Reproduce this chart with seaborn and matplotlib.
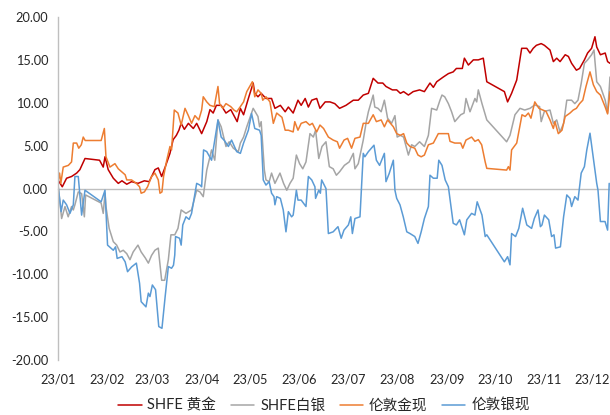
import numpy as np
import pandas as pd
import matplotlib
matplotlib.use("Agg")
import matplotlib.pyplot as plt
import matplotlib.dates as mdates
import seaborn as sns

# ========== DATA (day offsets from 2023-01-01, values in %) ==========
START = pd.Timestamp("2023-01-01")

gold_shfe_days = [0, 2.7, 5.4, 8.5, 11.7, 13.7, 16.9, 26, 28.3, 29.4, 31.4, 34.6, 37.7, 40, 43, 46, 50, 54, 57,
                  60.6, 62.7, 64.8, 67, 70, 72, 74, 75.6, 77, 79, 81.5, 84.6, 86.7, 89.8, 93, 95, 97, 99, 102,
                  105, 108, 112, 114, 116, 119, 122, 123, 125, 127, 130, 133.5, 135.6, 139, 142, 144, 147, 150,
                  152, 154.5, 156.5, 158.6, 161.7, 163.75, 167, 170, 173, 176, 180, 184.6, 187.7, 190.8, 194,
                  197, 200, 203, 205, 209, 211.7, 214, 216, 219, 222, 226, 229, 232.5, 234.6, 236.7, 240.8, 244,
                  247, 249, 252.7, 254, 256.5, 259.6, 262.7, 265.8, 268, 279, 281, 283.5, 286.7, 289.8, 293, 295,
                  297, 299, 302, 304, 307.5, 309.6, 311.7, 313.8, 317, 319, 321, 324, 326, 329, 331, 333.5,
                  335.6, 336.7, 339, 342, 343.5, 345]
gold_shfe = [1.0, 0.2, 1.2, 1.4, 1.8, 2.2, 3.5, 3.3, 2.5, 3.7, 2.2, 1.2, 0.6, 0.9, 0.5, 0.8, 0.6, 0.9, 0.8,
             2.2, 2.4, 1.4, 2.5, 4.1, 5.7, 6.2, 6.8, 7.6, 6.9, 7.6, 7.0, 7.6, 6.4, 7.8, 9.2, 8.8, 9.7, 9.7,
             8.8, 9.2, 7.8, 9.35, 8.6, 10.5, 12.3, 11.1, 10.7, 11.1, 10.5, 10.5, 9.35, 9.7, 8.95, 9.5, 8.8, 10.3,
             9.7, 10.5, 9.5, 10.3, 10.5, 9.35, 10.1, 10.1, 9.9, 9.35, 9.7, 10.3, 10.3, 10.9, 11.1,
             12.85, 12.3, 12.3, 11.9, 11.5, 11.5, 11.1, 11.3, 10.9, 11.3, 11.5, 11.3, 12.3, 11.8, 12.45, 13.0, 13.4,
             13.6, 14.0, 14.0, 15.2, 14.4, 15.0, 15.0, 15.2, 12.45, 11.3, 10.1, 11.1, 12.65, 16.35, 16.35, 15.8,
             16.35, 16.7, 16.9, 16.7, 16.15, 14.8, 15.2, 14.8, 15.6, 15.4, 14.6, 13.8, 14.0, 15.0, 15.8, 16.35,
             17.7, 16.5, 15.6, 15.8, 14.8, 14.6]

silver_shfe_days = [0, 2.3, 4.4, 6.4, 8.5, 9.6, 10.6, 12.7, 14.8, 16.5, 17.3, 27, 28.3, 29.4, 30, 32, 34.6, 36.7,
                    38.75, 40.8, 43, 45, 47, 50, 52, 54.6, 56.5, 58.5, 60.6, 62.7, 64.8, 66.7, 69, 70.6, 73, 75,
                    77, 80, 83.5, 86.7, 88.75, 90.8, 93, 96, 98, 100, 102, 105, 107, 109.6, 112.7, 114, 116, 118,
                    122, 125, 126, 127, 129, 130, 132, 133.5, 135.6, 138.75, 141, 143, 145, 147, 149, 151, 153,
                    155, 157.5, 159.6, 161, 163, 165, 167.5, 169.6, 172, 174, 176, 179, 182, 184.6, 185.6, 187.7,
                    190.8, 192.7, 194, 197, 198, 200, 202, 204, 206, 208.5, 210.6, 212, 214, 216, 219, 221, 223,
                    226, 229, 231.5, 233.5, 236.7, 238.75, 240, 241.7, 244, 246, 248, 251.7, 253.8, 255, 257.5,
                    260.6, 261.7, 262.7, 265, 268, 280.4, 282.5, 285.6, 288.75, 291.7, 295, 298, 301, 302, 304,
                    307.5, 309.6, 311.7, 313.75, 316, 318, 321, 323, 325, 327, 329, 331, 333.5, 335, 336.7, 339,
                    342, 343.5, 345]
silver_shfe = [0.6, -3.5, -2.1, -3.3, -2.1, -2.5, -1.9, -0.4, -0.6, -3.3, -0.75, -1.7, -2.9, -0.55, -2.1, -4.65,
               -6.2, -6.6, -7.4, -7.2, -7.6, -8.3, -7.4, -6.6, -7.4, -8.1, -8.7, -7.8, -7.2, -6.95, -10.7, -10.7,
               -8.3, -5.4, -5.4, -4.65, -2.5, -2.9, -2.5, -0.2, -0.4, -0.95, 2.15, 4.5, 3.3, 8.0, 7.2, 4.9, 5.45,
               4.7, 4.3, 5.3, 6.0, 7.2, 9.35, 8.4, 7.2, 7.8, 2.15, 1.0, 0.8, 1.8, 0.6, 1.8, 0.6, -0.2, 0.6, 1.2,
               3.9, 2.9, 2.3, 3.1, 6.4, 6.0, 6.8, 3.5, 4.9, 5.45, 2.55, 2.3, 1.55, 1.95, 2.7, 3.1, 4.1, 2.3, 2.9,
               5.65, 7.8, 8.95, 10.9, 9.5, 9.35, 8.95, 10.3, 8.2, 7.6, 8.5, 6.0, 6.2, 6.0, 3.9, 5.1, 4.9, 5.45,
               4.9, 6.2, 9.35, 9.15, 10.3, 10.9, 10.7, 9.9, 8.95, 7.8, 8.6, 8.8, 10.5, 8.95, 10.5, 10.1, 11.5,
               9.9, 8.0, 5.45, 6.2, 8.6, 9.35, 9.15, 9.35, 9.75, 9.55, 7.8, 9.0, 9.15, 7.6, 8.0, 6.6, 7.6, 10.3,
               10.3, 9.9, 10.3, 12.25, 14.6, 15.0, 15.6, 16.15, 12.45, 11.9, 10.3, 8.8, 13.0]

gold_ldn_days = [0, 1, 1.8, 3.3, 6.5, 8.5, 9.6, 11.7, 13, 14.6, 15.8, 17, 27, 29, 30, 32.5, 35.6, 37.7, 39.8, 42,
                 43, 46, 49, 51, 52, 54, 56, 58.5, 60.6, 62.7, 63.75, 65, 66, 68, 70, 71, 72.7, 75, 77, 79.4,
                 81.5, 83.5, 85.6, 88, 89.8, 90.8, 93, 95, 97.7, 100, 101, 103, 105, 108, 110, 111.7, 114, 116,
                 118, 121.5, 123, 125, 127, 128, 130, 132.5, 134.6, 136.7, 140, 142, 144, 147, 148, 150, 152, 155,
                 157.3, 159, 161.7, 163.75, 166, 169, 172, 174.6, 176, 178.8, 181, 183.5, 185.6, 188.75, 190.8,
                 194, 197, 199, 202, 204, 206, 209.6, 211.7, 214, 216, 218, 220, 223, 225, 227, 229, 231.5, 234.6,
                 237.7, 240.8, 244, 245, 248, 251.7, 253, 255, 258.5, 260.6, 262.7, 264.8, 267, 268, 280.4, 281.5,
                 282.5, 283.5, 286.7, 290, 292, 294, 295.6, 298, 300.6, 303, 305, 307.5, 309.6, 310.6, 312.7, 315,
                 317, 320, 322, 324, 326, 328, 330, 332.5, 334.6, 336.7, 339, 342, 343.5, 345]
gold_ldn = [0.8, 1.8, 0.6, 2.5, 2.7, 3.1, 5.3, 5.3, 4.7, 5.1, 6.0, 5.6, 5.6, 7.0, 3.7, 2.5, 2.9, 2.3, 1.95, 1.6,
            1.0, 1.0, 0.6, 0.2, -0.55, -0.4, 0.2, 1.4, 1.8, 1.0, -0.55, -0.4, 1.4, 3.3, 4.9, 4.5, 9.15, 8.8, 7.4,
            9.35, 8.5, 7.6, 8.5, 8.0, 9.15, 10.7, 10.1, 9.7, 9.55, 11.9, 9.9, 9.35, 9.9, 9.55, 9.15, 8.95, 9.55,
            10.1, 11.3, 12.45, 10.7, 11.5, 11.1, 10.3, 10.7, 10.1, 7.6, 8.8, 8.3, 6.8, 6.8, 6.6, 7.8, 6.8, 7.6,
            7.8, 7.4, 7.6, 6.6, 7.4, 7.0, 6.0, 5.65, 5.45, 4.7, 5.65, 5.85, 4.7, 5.85, 6.0, 7.6, 7.6, 8.6, 7.8,
            8.0, 7.2, 8.0, 7.2, 6.4, 6.2, 6.4, 5.3, 4.9, 4.7, 3.9, 3.7, 3.9, 5.1, 5.3, 6.4, 6.4, 6.4, 5.5, 5.3,
            5.3, 4.7, 5.65, 6.0, 5.5, 5.7, 5.1, 3.1, 2.35, 2.15, 2.55, 2.15, 4.5, 5.3, 8.6, 8.4, 8.8, 8.2, 10.1,
            9.35, 9.15, 9.0, 8.0, 7.0, 7.8, 6.4, 6.8, 8.4, 8.8, 9.15, 9.35, 9.9, 10.3, 11.9, 13.6, 12.1, 11.3,
            10.9, 9.5, 8.7, 11.3]

silver_ldn_days = [0, 2, 3.3, 5.4, 7.5, 9.6, 10.6, 12.7, 14.8, 16.9, 27, 29.4, 31, 34.6, 36, 37, 40, 42, 43.5, 46,
                   49, 51, 52, 55, 56.5, 57.5, 59, 61, 63, 65, 67, 69, 71, 72.2, 73, 73.5, 76, 77, 78, 80, 82,
                   83.5, 86.7, 88.75, 89.8, 91, 93, 96, 100, 102, 104, 106.5, 108.5, 111.7, 114, 116, 119, 121,
                   123, 126, 127, 128.3, 130, 132, 133.5, 135, 135.6, 136.7, 139, 140.8, 142.5, 144, 146, 147, 149,
                   150, 152, 155, 156.5, 158.6, 160.6, 161, 163, 164, 164.8, 167.5, 169, 172, 175, 177, 178.75,
                   181.5, 183, 184, 185.6, 188.75, 190.8, 191.8, 194, 197.5, 199, 201, 204, 205, 207, 209.6, 210.6,
                   211.7, 213.75, 215.8, 218, 220, 223, 225, 227, 229, 231.5, 232.5, 234.6, 237, 238, 240, 242,
                   244, 247, 249, 251, 254, 255.5, 258.5, 260.6, 262, 265, 267, 268, 279, 281, 282.5, 283.5, 286,
                   288, 290.4, 293, 296, 297.7, 300, 301.5, 302.5, 304, 306.7, 308.5, 310, 311, 314, 316, 318, 320,
                   321, 323, 325, 327, 329, 330.5, 332.5, 334.5, 336.7, 337.5, 339, 341.9, 343.5, 344.5]
silver_ldn = [0.4, -2.7, -1.35, -1.9, -2.9, -1.9, 1.4, 1.4, -3.1, -0.2, -1.55, -0.2, -6.6, -7.2, -6.8, -8.15, -7.95,
              -8.55, -9.7, -9.15, -8.7, -11.05, -13.2, -13.8, -12.2, -12.6, -11.25, -11.8, -16.1, -16.3, -12.6, -9.1,
              -9.3, -8.95, -7.75, -5.6, -5.8, -6.6, -4.25, -3.3, -3.6, -2.9, 0.6, 0.4, 0.2, 4.5, 4.3, 3.3, 8.0,
              6.0, 5.6, 4.9, 5.65, 4.3, 4.1, 5.3, 6.8, 8.75, 7.0, 6.8, 6.2, 1.0, 0.4, 0.8, -0.55, -0.95, -1.9,
              -0.95, -1.15, -2.5, -5.05, -2.7, -3.3, -3.1, -0.2, -1.35, -1.35, -2.1, 1.4, 1.0, 0.2, -1.15, -0.2,
              -0.55, 1.0, 0.0, -5.25, -5.05, -4.45, -5.8, -4.85, -4.25, -3.3, -5.25, -3.5, -3.3, 4.1, 3.7, 4.3,
              5.05, 3.3, 2.7, 4.1, 0.8, 1.75, 3.3, -0.2, -1.15, -1.9, -3.3, -5.05, -5.25, -5.6, -6.4, -5.05,
              -3.5, -2.1, 1.55, 1.2, 1.2, 3.3, 2.7, 1.0, 0.2, -4.05, -4.25, -3.65, -5.4, -3.65, -2.9, -3.1, -1.55,
              -3.1, -5.6, -5.4, -8.55, -7.95, -8.9, -5.25, -5.6, -4.65, -2.3, -4.25, -4.65, -3.5, -2.5, -4.45,
              -4.25, -3.1, -3.65, -5.6, -5.4, -6.95, -6.8, -3.3, -0.75, -1.15, -2.1, -0.95, -1.35, 1.8, 2.55,
              4.5, 6.45, 3.7, 0.6, -0.2, -3.85, -3.85, -4.85, 0.6]

series_names = ["SHFE 黄金", "SHFE白银", "伦敦金现", "伦敦银现"]
series_colors = ["#C00000", "#A5A5A5", "#ED7D31", "#5B9BD5"]
y_ticks = [-20, -15, -10, -5, 0, 5, 10, 15, 20]

# ========== BUILD LONG TABLE ==========
frames = []
for name, days, vals in [(series_names[0], gold_shfe_days, gold_shfe),
                         (series_names[1], silver_shfe_days, silver_shfe),
                         (series_names[2], gold_ldn_days, gold_ldn),
                         (series_names[3], silver_ldn_days, silver_ldn)]:
    frames.append(pd.DataFrame({
        "date": START + pd.to_timedelta(days, unit="D"),
        "value": vals,
        "series": name,
    }))
df = pd.concat(frames, ignore_index=True)

# ========== STYLE ==========
sns.set_theme(style="white")
plt.rcParams["font.family"] = ["Lato", "Noto Sans CJK SC", "DejaVu Sans"]
plt.rcParams["axes.unicode_minus"] = False

fig = plt.figure(figsize=(6.1, 4.15), dpi=100)
ax = fig.add_axes([0.095, 0.1325, 0.905, 0.8265])

for name, color in zip(series_names, series_colors):
    sub = df[df["series"] == name]
    sns.lineplot(data=sub, x="date", y="value", color=color, linewidth=1.1,
                 estimator=None, sort=False, ax=ax, label=name)

ax.set_xlim(START, START + pd.Timedelta(days=345))
ax.set_ylim(-20, 20)
ax.set_yticks(y_ticks)
ax.yaxis.set_major_formatter(matplotlib.ticker.FormatStrFormatter("%.2f"))
ax.set_xlabel("")
ax.set_ylabel("")

axis_gray = "#BFBFBF"
for s in ["top", "right"]:
    ax.spines[s].set_visible(False)
ax.spines["left"].set_color(axis_gray)
ax.spines["left"].set_linewidth(1.0)
# category axis crosses at zero, like the Excel original
ax.spines["bottom"].set_position(("data", 0))
ax.spines["bottom"].set_color(axis_gray)
ax.spines["bottom"].set_linewidth(1.0)
ax.spines["bottom"].set_zorder(0)

ax.xaxis.set_major_locator(mdates.MonthLocator())
ax.tick_params(axis="x", which="both", direction="out", length=4, width=1,
               color=axis_gray, labelbottom=False)
ax.tick_params(axis="y", direction="out", length=4, width=1, color=axis_gray,
               labelsize=9.2, labelcolor="#262626", pad=3)

# month labels sit under the plot, not on the zero line
sec = ax.secondary_xaxis("bottom")
sec.xaxis.set_major_locator(mdates.MonthLocator())
sec.xaxis.set_major_formatter(mdates.DateFormatter("%y/%m"))
sec.spines["bottom"].set_visible(False)
sec.tick_params(axis="x", length=0, pad=10, labelsize=9.2, labelcolor="#262626")

ax.get_legend().remove()
handles, labels = ax.get_legend_handles_labels()
fig.legend(handles, labels, loc="center", bbox_to_anchor=(324 / 610, 0.022), ncol=4,
           frameon=False, fontsize=10.5, handlelength=1.6, handletextpad=0.4, columnspacing=1.0)

fig.savefig("out.png", dpi=100)
